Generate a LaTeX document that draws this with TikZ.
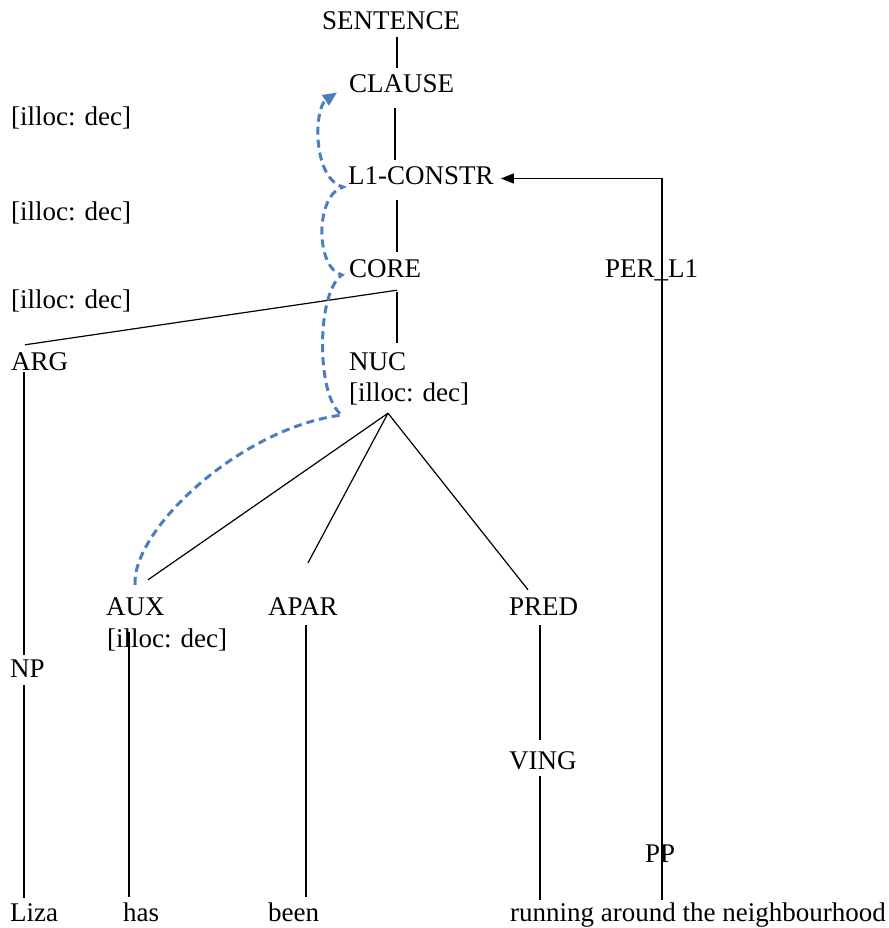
\documentclass[tikz,border=0pt]{standalone}
\usepackage{fontspec}
\setmainfont{Liberation Serif}
\usetikzlibrary{calc,arrows.meta}
\definecolor{curveblue}{RGB}{74,126,193}
\begin{document}
\begin{tikzpicture}[x=1pt,y=-1pt,
  lbl/.style={anchor=base west,inner sep=0pt,text height=19pt,text depth=6pt,font=\fontsize{27}{31}\selectfont},
  branch/.style={draw=black,line width=1.2pt},
  bluecurve/.style={draw=curveblue,line width=3pt,dash pattern=on 8pt off 5pt,-{Triangle[length=14pt,width=12pt]}}]
\useasboundingbox (0,0) rectangle (888,928);
% nodes
\node[lbl] (sent) at (322,30) {SENTENCE};
\node[lbl] (clause) at (349,93) {CLAUSE};
\node[lbl] (l1) at (348,185) {L1-CONSTR};
\node[lbl] (core) at (349,277) {CORE};
\node[lbl] (nuc) at (349,370) {NUC};
\node[lbl] (nucf) at (349,401) {[illoc: dec]};
\node[lbl] (arg) at (11,370) {ARG};
\node[lbl] (per) at (605,277) {PER\_L1};
\node[lbl] (il1) at (11,126) {[illoc: dec]};
\node[lbl] (il2) at (11,220) {[illoc: dec]};
\node[lbl] (il3) at (11,308) {[illoc: dec]};
\node[lbl] (aux) at (106,615) {AUX};
\node[lbl] (auxf) at (107,647) {[illoc: dec]};
\node[lbl] (apar) at (268,615) {APAR};
\node[lbl] (pred) at (509,615) {PRED};
\node[lbl] (np) at (10,677) {NP};
\node[lbl] (ving) at (509,769) {VING};
\node[lbl] (pp) at (645,862) {PP};
\node[lbl] (liza) at (10,921) {Liza};
\node[lbl] (has) at (123,921) {has};
\node[lbl] (been) at (268,921) {been};
\node[lbl] (run) at (510,921) {running around the neighbourhood};
% branches
\draw[branch] ($(sent.south -| 397,0)+(0,1)$) -- ($(clause.north -| 397,0)+(0,-6)$);
\draw[branch] ($(clause.south -| 395,0)+(0,9)$) -- ($(l1.north -| 395,0)+(0,-6)$);
\draw[branch] ($(l1.south -| 397,0)+(0,9)$) -- ($(core.north -| 397,0)+(0,-6)$);
\draw[branch] ($(core.south -| 397,0)+(0,9)$) -- ($(nuc.north -| 397,0)+(0,-8)$);
\draw[branch] ($(core.south -| 397,0)+(0,7)$) -- ($(arg.north -| 25,0)+(0,-6)$);
\draw[branch] ($(arg.south -| 24,0)+(0,-4)$) -- ($(np.north -| 24,0)+(0,-3)$);
\draw[branch] ($(np.south -| 24,0)+(0,2)$) -- ($(liza.north -| 24,0)+(0,-4)$);
\draw[branch] ($(nucf.south -| 388,0)+(0,6)$) -- ($(aux.north -| 148,0)+(0,-16)$);
\draw[branch] ($(nucf.south -| 388,0)+(0,6)$) -- ($(apar.north -| 308,0)+(0,-33)$);
\draw[branch] ($(nucf.south -| 388,0)+(0,6)$) -- ($(pred.north -| 528,0)+(0,-6)$);
\draw[branch] ($(auxf.north -| 129,0)+(0,4)$) -- ($(has.north -| 129,0)+(0,-5)$);
\draw[branch] ($(apar.south -| 306,0)+(0,4)$) -- ($(been.north -| 306,0)+(0,-5)$);
\draw[branch] ($(pred.south -| 540,0)+(0,4)$) -- ($(ving.north -| 540,0)+(0,-10)$);
\draw[branch] ($(ving.south -| 540,0)+(0,1)$) -- ($(run.north -| 540,0)+(0,-2)$);
\draw[branch,-{Triangle[length=13pt,width=10pt]},shorten >=7pt] ($(run.north -| 662,0)+(0,-2)$) |- (l1.east);
% blue dashed curve
\coordinate (cA) at ($(aux.north west)+(29,-11)$);
\coordinate (c1) at (342,415);
\coordinate (c2) at (342,275);
\coordinate (c3) at (343,187);
\coordinate (cT) at ($(clause.west)+(-12,6)$);
\draw[bluecurve] (cA) .. controls (132,530) and (240,428) .. (c1)
  .. controls (316,398) and (316,292) .. (c2)
  .. controls (315,268) and (315,195) .. (c3)
  .. controls (312,178) and (314,108) .. (cT);
\end{tikzpicture}
\end{document}
